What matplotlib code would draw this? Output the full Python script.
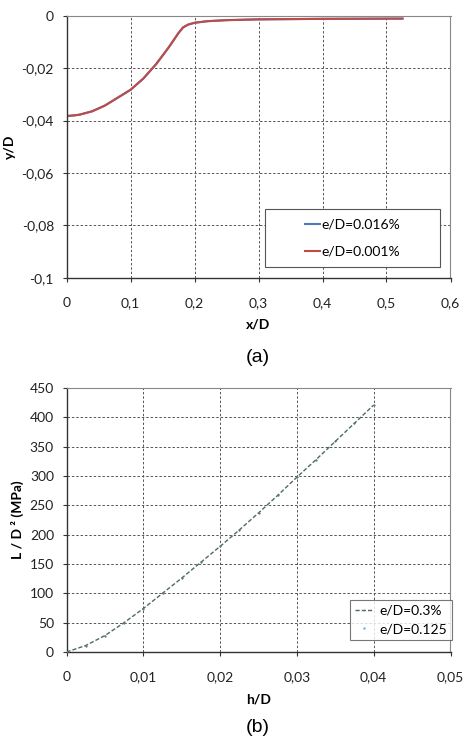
import numpy as np
import matplotlib.pyplot as plt
from matplotlib.ticker import FuncFormatter
from matplotlib.patches import Rectangle

# (a) profile y/D against x/D
xa = [0, 0.01, 0.02, 0.04, 0.06, 0.08, 0.10, 0.12, 0.14, 0.16, 0.175, 0.182,
      0.19, 0.20, 0.22, 0.25, 0.30, 0.40, 0.525]
ya_016 = [-0.0383, -0.0381, -0.0378, -0.0365, -0.0343, -0.0313, -0.0283, -0.0240,
          -0.0185, -0.0120, -0.0066, -0.0045, -0.0034, -0.0027, -0.0021, -0.0017,
          -0.0014, -0.0012, -0.0011]
ya_001 = [-0.0383, -0.0381, -0.0378, -0.0365, -0.0343, -0.0313, -0.0283, -0.0240,
          -0.0185, -0.0120, -0.0066, -0.0045, -0.0034, -0.0027, -0.0021, -0.0017,
          -0.0014, -0.0012, -0.0011]

# (b) load L/D^2 against h/D
xb = [0, 0.0025, 0.005, 0.0075, 0.01, 0.0125, 0.015, 0.0175, 0.02, 0.0225,
      0.025, 0.0275, 0.03, 0.0325, 0.035, 0.0375, 0.04]
yb_03 = [0, 11, 28, 50, 74, 100, 126, 153, 180, 208, 237, 267, 298, 328, 359, 390, 421]
yb_125 = [0, 11, 28, 50, 74, 100, 126, 153, 180, 208, 237, 267, 298, 328, 359, 390, 421]

plt.rcParams['font.family'] = ['Lato', 'DejaVu Sans']
FS = 10


def comma(v, pos):
    return ('%g' % round(v, 6)).replace('.', ',')


def style(ax):
    ax.grid(True, color='#555555', linestyle=(0, (2.5, 2)), linewidth=0.7)
    for s in ['top', 'right']:
        ax.spines[s].set_color('#888888')
    for s in ['left', 'bottom']:
        ax.spines[s].set_color('#333333')
        ax.spines[s].set_linewidth(1.0)
    ax.tick_params(labelsize=FS, length=3, width=0.8, color='#333333',
                   labelcolor='#222222')
    ax.tick_params(axis='x', pad=11)
    ax.tick_params(axis='y', pad=6)
    ax.set_axisbelow(True)


fig = plt.figure(figsize=(4.68, 7.44), dpi=100)

# top chart
ax1 = fig.add_axes([66.5 / 468, 1 - 277.7 / 744, 384 / 468, 262 / 744])
ax1.plot(xa, ya_016, color='#4a7ebb', lw=1.5, label='e/D=0.016%')
ax1.plot(xa, ya_001, color='#be4b48', lw=1.5, label='e/D=0.001%')
ax1.set_xlim(0, 0.6)
ax1.set_ylim(-0.1, 0)
ax1.set_xticks(np.arange(0, 0.61, 0.1))
ax1.set_yticks(np.arange(-0.1, 0.001, 0.02))
ax1.xaxis.set_major_formatter(FuncFormatter(comma))
ax1.yaxis.set_major_formatter(FuncFormatter(comma))
style(ax1)
ax1.set_xlabel('x/D', fontsize=FS, fontweight='bold', labelpad=7)
ax1.set_ylabel('y/D', fontsize=FS, fontweight='bold', labelpad=4)
ax1.add_patch(Rectangle((0.517, 0.041), 0.456, 0.221, transform=ax1.transAxes,
                        facecolor='white', edgecolor='#555555', lw=0.8, zorder=4))
leg1 = ax1.legend(loc='center', bbox_to_anchor=(0.745, 0.1515), fontsize=FS,
                  frameon=False, handlelength=1.1, handletextpad=0.1,
                  labelspacing=1.1, borderpad=0)
leg1.set_zorder(5)
fig.text(258 / 468, 1 - 358 / 744, '(a)', ha='center', va='center',
         fontsize=14, family='Liberation Sans')

# bottom chart
ax2 = fig.add_axes([66.5 / 468, 1 - 652 / 744, 384 / 468, 264 / 744])
ax2.plot(xb, yb_03, color='#4e6a64', lw=1.0, linestyle=(0, (3, 1.5)),
         marker='+', markersize=2, markeredgewidth=0.5, markeredgecolor='#7a7a3a',
         label='e/D=0.3%', zorder=3)
ax2.plot(xb, yb_125, color='#5b9bd5', lw=0, marker='.', markersize=1.2,
         label='e/D=0.125', zorder=2)
ax2.set_xlim(0, 0.05)
ax2.set_ylim(0, 450)
ax2.set_xticks(np.arange(0, 0.051, 0.01))
ax2.set_yticks(np.arange(0, 451, 50))
ax2.xaxis.set_major_formatter(FuncFormatter(comma))
style(ax2)
ax2.set_xlabel('h/D', fontsize=FS, fontweight='bold', labelpad=7)
ax2.set_ylabel('L / D ² (MPa)', fontsize=FS, fontweight='bold', labelpad=4)
leg2 = ax2.legend(loc='upper left', bbox_to_anchor=(0.738, 0.197), fontsize=FS,
                  frameon=True, fancybox=False, handlelength=1.3, handletextpad=0.5,
                  borderpad=0.35, labelspacing=0.45, borderaxespad=0)
leg2.get_frame().set_edgecolor('#555555')
leg2.get_frame().set_linewidth(0.8)
fig.text(258 / 468, 1 - 728 / 744, '(b)', ha='center', va='center',
         fontsize=14, family='Liberation Sans')

fig.savefig('out.png', dpi=100)
